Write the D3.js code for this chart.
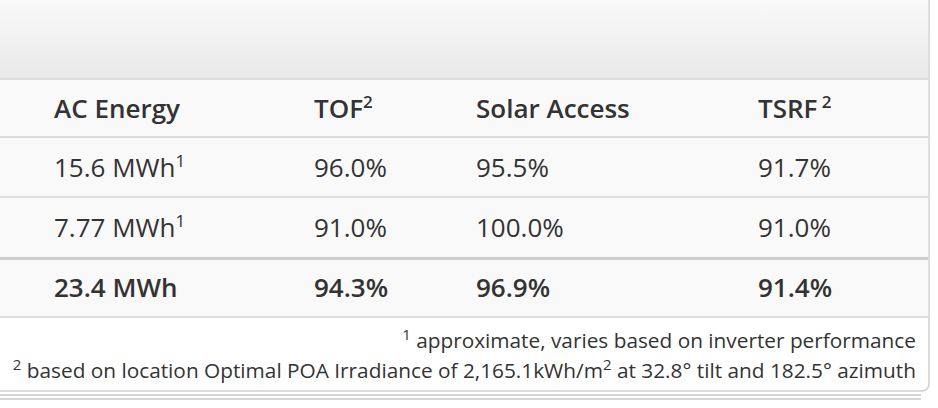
<!DOCTYPE html>
<html>
<head>
<meta charset="utf-8">
<script src="https://cdn.jsdelivr.net/npm/d3@7"></script>
<style>
  html, body { margin: 0; padding: 0; background: #fff; }
  svg { display: block; font-family: "Open Sans", sans-serif; }
</style>
</head>
<body>
<div id="view"></div>
<script>
var width = 938, height = 408;

// table content
var columns = ["AC Energy", "TOF", "Solar Access", "TSRF"];
var columnSups = ["", "2", "", " 2"];
var acEnergy = ["15.6 MWh", "7.77 MWh", "23.4 MWh"];
var energySups = ["1", "1", ""];
var tof = ["96.0%", "91.0%", "94.3%"];
var solarAccess = ["95.5%", "100.0%", "96.9%"];
var tsrf = ["91.7%", "91.0%", "91.4%"];
var rowKinds = ["row", "row", "total"];
var footnotes = [
  { sup: "1", text: " approximate, varies based on inverter performance" },
  { sup: "2", text: " based on location Optimal POA Irradiance of 2,165.1kWh/m", sup2: "2", tail: " at 32.8° tilt and 182.5° azimuth" }
];

var svg = d3.select("#view").append("svg")
  .attr("width", width)
  .attr("height", height);

var defs = svg.append("defs");
var grad = defs.append("linearGradient").attr("id", "hdr")
  .attr("x1", 0).attr("y1", 0).attr("x2", 0).attr("y2", 1);
grad.append("stop").attr("offset", "0%").attr("stop-color", "#f9f9f9");
grad.append("stop").attr("offset", "100%").attr("stop-color", "#e9e9e9");

var panelRight = 929;

// bottom double rule below the panel
svg.append("line").attr("x1", 0).attr("x2", 921).attr("y1", 395).attr("y2", 395)
  .style("stroke", "#d4d4d4").style("stroke-width", 2);
svg.append("line").attr("x1", 0).attr("x2", 921).attr("y1", 399).attr("y2", 399)
  .style("stroke", "#d4d4d4").style("stroke-width", 2);

// panel body
svg.append("rect")
  .attr("x", -20).attr("y", -20)
  .attr("width", panelRight + 20).attr("height", 411)
  .attr("rx", 7)
  .style("fill", "#fff")
  .style("stroke", "#cfcfcf")
  .style("stroke-width", 1.5);

// header gradient band
svg.append("rect")
  .attr("x", -10).attr("y", 0)
  .attr("width", panelRight + 9.2).attr("height", 78)
  .style("fill", "url(#hdr)");

// band top/bottom and text baseline for header + 3 rows
var bandTops = [80, 138, 198, 260];
var bandBottoms = [136, 196, 257, 316];
var baselines = [118, 177, 237, 297];

var y = d3.scaleOrdinal().domain(d3.range(4)).range(baselines);
var x = d3.scaleOrdinal().domain(columns).range([54, 314, 476, 758]);

svg.append("g").selectAll("rect.band")
  .data(d3.range(4)).enter()
  .append("rect")
  .attr("class", "band")
  .attr("x", -10)
  .attr("y", function(d) { return bandTops[d]; })
  .attr("width", panelRight + 9.2)
  .attr("height", function(d) { return bandBottoms[d] - bandTops[d]; })
  .style("fill", "#f9f9f9");

// separators
var seps = [
  { y: 79, w: 2 }, { y: 137, w: 2 }, { y: 197, w: 2 }, { y: 258.5, w: 3 }, { y: 317, w: 2 }
];
svg.selectAll("line.sep")
  .data(seps).enter()
  .append("line")
  .attr("class", "sep")
  .attr("x1", -10).attr("x2", panelRight - 0.8)
  .attr("y1", function(d) { return d.y; })
  .attr("y2", function(d) { return d.y; })
  .style("stroke", function(d) { return d.w === 3 ? "#cfcfcf" : "#dddddd"; })
  .style("stroke-width", function(d) { return d.w; });

// header row
var head = svg.selectAll("text.head")
  .data(columns).enter()
  .append("text")
  .attr("class", "head")
  .attr("x", function(d) { return x(d); })
  .attr("y", y(0))
  .attr("xml:space", "preserve")
  .style("font-size", "26px")
  .style("font-weight", 600)
  .style("fill", "#333");
head.append("tspan").text(function(d) { return d; });
head.append("tspan")
  .attr("dy", -10)
  .style("font-size", "17px")
  .text(function(d, i) { return columnSups[i]; });

// body rows
var rows = d3.range(acEnergy.length).map(function(i) {
  return {
    kind: rowKinds[i],
    cells: [
      { col: columns[0], text: acEnergy[i], sup: energySups[i] },
      { col: columns[1], text: tof[i], sup: "" },
      { col: columns[2], text: solarAccess[i], sup: "" },
      { col: columns[3], text: tsrf[i], sup: "" }
    ]
  };
});

var rowG = svg.selectAll("g.row")
  .data(rows).enter()
  .append("g")
  .attr("class", "row");

var cell = rowG.selectAll("text")
  .data(function(d, i) { return d.cells.map(function(c) { return { c: c, i: i + 1, kind: d.kind }; }); })
  .enter()
  .append("text")
  .attr("x", function(d) { return x(d.c.col); })
  .attr("y", function(d) { return y(d.i); })
  .style("font-size", "26px")
  .style("font-weight", function(d) { return d.kind === "total" ? 600 : 400; })
  .style("fill", "#333");
cell.append("tspan").text(function(d) { return d.c.text; });
cell.append("tspan")
  .attr("dy", -10)
  .style("font-size", "17px")
  .text(function(d) { return d.c.sup; });

// footnotes, right aligned
var fnBase = [348, 378];
var fn = svg.selectAll("text.fn")
  .data(footnotes).enter()
  .append("text")
  .attr("class", "fn")
  .attr("x", 916)
  .attr("y", function(d, i) { return fnBase[i]; })
  .attr("text-anchor", "end")
  .attr("xml:space", "preserve")
  .style("font-size", "20.8px")
  .style("fill", "#333");
fn.append("tspan").attr("dy", -8).style("font-size", "15px").text(function(d) { return d.sup; });
fn.append("tspan").attr("dy", 8).text(function(d) { return d.text; });
fn.filter(function(d) { return d.sup2; })
  .append("tspan").attr("dy", -8).style("font-size", "15px").text(function(d) { return d.sup2; });
fn.filter(function(d) { return d.tail; })
  .append("tspan").attr("dy", 8).text(function(d) { return d.tail; });
</script>
</body>
</html>
